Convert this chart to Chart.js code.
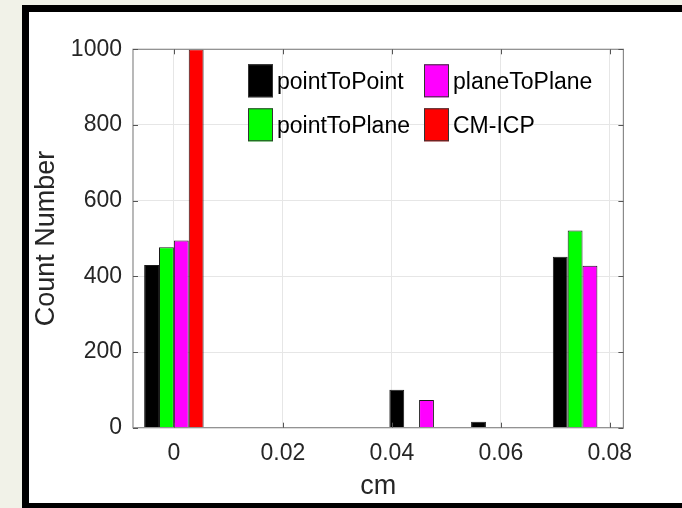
<!DOCTYPE html>
<html>
<head>
<meta charset="utf-8">
<title>Count Number histogram</title>
<script src="https://cdn.jsdelivr.net/npm/chart.js@4/dist/chart.umd.min.js"></script>
<style>
  html, body { margin: 0; padding: 0; background: #f1f2e8; overflow: hidden; }
  #wrap { width: 682px; height: 508px; position: relative; }
</style>
</head>
<body>
<div id="wrap"><canvas id="chart"></canvas></div>
<script>
// histogram bin centres (cm)
const bins = [0, 0.015, 0.03, 0.045, 0.06, 0.075];

// counts per bin
const pointToPoint = [430, 0, 2, 100, 16, 452];
const pointToPlane = [477, 0, 0, 0, 0, 521];
const planeToPlane = [495, 0, 0, 73, 2, 428];
const cmIcp        = [1000, 0, 0, 0, 0, 0];

const seriesNames  = ['pointToPoint', 'pointToPlane', 'planeToPlane', 'CM-ICP'];
const seriesColors = ['#000000', '#00ff00', '#ff00ff', '#ff0000'];

// tick labels
const xTicks = [0, 0.02, 0.04, 0.06, 0.08];
const yTicks = [0, 200, 400, 600, 800, 1000];

const FONT = "'Liberation Sans', Arial, Helvetica, sans-serif";
const INK = '#262626';

const toPoints = vals => bins.map((b, i) => ({ x: b, y: vals[i] }));

// white figure with the black frame behind everything
const framePlugin = {
    id: 'frame',
    beforeDraw(chart) {
        const { ctx, width, height } = chart;
        ctx.save();
        ctx.fillStyle = '#f1f2e8';
        ctx.fillRect(0, 0, width, height);
        ctx.fillStyle = '#000';
        ctx.fillRect(22, 5, width - 22, height - 5);
        ctx.fillStyle = '#fff';
        ctx.fillRect(29, 12, width - 29, height - 17);
        ctx.restore();
    }
};

// matlab style box, inward ticks and the 2x2 legend
const boxPlugin = {
    id: 'box',
    afterDatasetsDraw(chart) {
        const { ctx, chartArea: a, scales: { x, y } } = chart;
        ctx.save();
        ctx.strokeStyle = '#8a8a8a';
        ctx.lineWidth = 1.2;
        ctx.strokeRect(a.left, a.top, a.right - a.left, a.bottom - a.top);

        ctx.strokeStyle = '#555';
        ctx.lineWidth = 1;
        ctx.beginPath();
        const tl = 5;
        xTicks.forEach(v => {
            const px = Math.round(x.getPixelForValue(v)) + 0.5;
            ctx.moveTo(px, a.bottom); ctx.lineTo(px, a.bottom - tl);
            ctx.moveTo(px, a.top); ctx.lineTo(px, a.top + tl);
        });
        yTicks.forEach(v => {
            const py = Math.round(y.getPixelForValue(v)) + 0.5;
            ctx.moveTo(a.left, py); ctx.lineTo(a.left + tl, py);
            ctx.moveTo(a.right, py); ctx.lineTo(a.right - tl, py);
        });
        ctx.stroke();

        // legend: two columns, inside the axes
        const lx = a.left + 115, ly = a.top + 15;
        const colW = 176, rowH = 44, sw = 25, sh = 33;
        const order = [0, 2, 1, 3]; // column-major like matlab NumColumns=2
        ctx.font = '23px ' + FONT;
        ctx.textBaseline = 'middle';
        ctx.textAlign = 'left';
        order.forEach((ds, k) => {
            const col = k % 2, row = Math.floor(k / 2);
            const sx = lx + col * colW, sy = ly + row * rowH;
            ctx.fillStyle = seriesColors[ds];
            ctx.fillRect(sx, sy, sw, sh);
            ctx.strokeStyle = '#333';
            ctx.lineWidth = 1;
            ctx.strokeRect(sx + 0.5, sy + 0.5, sw - 1, sh - 1);
            ctx.fillStyle = '#000';
            ctx.fillText(seriesNames[ds], sx + sw + 4, sy + sh / 2 + 2);
        });
        ctx.restore();
    }
};

const datasets = [pointToPoint, pointToPlane, planeToPlane, cmIcp].map((vals, i) => ({
    label: seriesNames[i],
    data: toPoints(vals),
    backgroundColor: seriesColors[i],
    borderColor: '#1a1a1a',
    borderWidth: 1,
    borderSkipped: 'start',
    categoryPercentage: 4 / 5.5,
    barPercentage: 1
}));

new Chart(document.getElementById('chart'), {
    type: 'bar',
    data: { datasets },
    options: {
        responsive: true,
        maintainAspectRatio: false,
        animation: false,
        layout: { padding: { left: 0, right: 58.6, top: 49.3, bottom: 5.3 } },
        plugins: {
            legend: { display: false },
            tooltip: { enabled: false }
        },
        scales: {
            x: {
                type: 'linear',
                min: -0.0075,
                max: 0.0825,
                offset: false,
                grid: { offset: false, color: '#e6e6e6', drawTicks: false },
                border: { display: false },
                afterBuildTicks: s => { s.ticks = xTicks.map(v => ({ value: v })); },
                afterFit: s => { s.height = 75; },
                ticks: {
                    autoSkip: false,
                    maxRotation: 0,
                    padding: 12,
                    color: INK,
                    font: { family: FONT, size: 23 },
                    callback: v => String(v)
                },
                title: {
                    display: true,
                    text: 'cm',
                    color: INK,
                    padding: { top: 0, bottom: 0 },
                    font: { family: FONT, size: 27 }
                }
            },
            y: {
                min: 0,
                max: 1000,
                grid: { color: '#e6e6e6', drawTicks: false },
                border: { display: false },
                afterBuildTicks: s => { s.ticks = yTicks.map(v => ({ value: v })); },
                afterFit: s => { s.width = 133; },
                ticks: {
                    padding: 11,
                    color: INK,
                    font: { family: FONT, size: 23 },
                    callback: v => String(v)
                },
                title: {
                    display: true,
                    text: 'Count Number',
                    color: INK,
                    padding: { top: 30.8, bottom: 0 },
                    font: { family: FONT, size: 27 }
                }
            }
        }
    },
    plugins: [framePlugin, boxPlugin]
});
</script>
</body>
</html>
